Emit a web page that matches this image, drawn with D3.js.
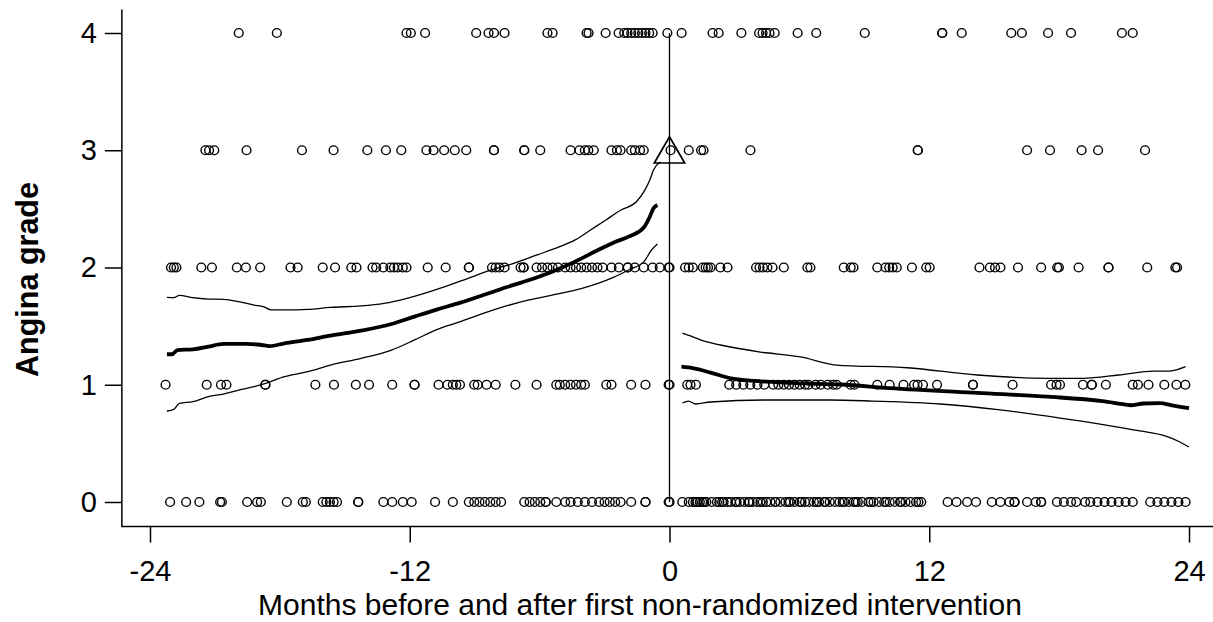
<!DOCTYPE html>
<html>
<head>
<meta charset="utf-8">
<script src="https://cdn.jsdelivr.net/npm/d3@7"></script>
<style>
  body { margin: 0; background: #fff; }
  svg { display: block; font-family: "Liberation Sans", Arial, sans-serif; }
</style>
</head>
<body>
<svg id="chart"></svg>
<script>
// months of each observation, one array per angina grade
const grade0 = [-23.07, -22.33, -21.72, -20.76, -20.68, -19.51, -19.05, -18.88, -17.68, -16.94, -16.8,
  -16.02, -15.85, -15.69, -15.52, -15.36, -14.38, -14.38, -13.22, -12.81, -12.32, -11.91, -10.83, -10.01,
  -9.27, -9.02, -8.78, -8.53, -8.28, -8.03, -7.78, -6.71, -6.46, -6.22, -5.97, -5.72, -5.72, -5.23, -4.82,
  -4.57, -4.24, -3.91, -3.58, -3.25, -3.0, -2.76, -2.51, -2.26, -1.77, -1.11, -1.11, -0.04,
  0, 0.59, 0.89, 1.08, 1.29, 1.51, 1.70, 1.95, 2.19, 2.43, 2.68, 2.84, 3.04, 3.25, 3.46, 3.65, 3.85, 4.06,
  4.31, 4.47, 4.66, 4.88, 5.12, 5.36, 5.57, 5.77, 6.01, 6.26, 6.45, 6.67, 6.91, 7.15, 7.40, 7.64, 7.85,
  8.08, 8.29, 8.51, 8.70, 8.90, 9.19, 9.43, 9.68, 9.92, 10.17, 10.41, 10.65, 10.90, 11.14, 11.39, 11.63,
  1.2, 1.4, 1.6, 2.3, 2.5, 3.1, 3.7, 4.2, 4.9, 5.5, 6.1, 6.8, 7.2, 8.0, 8.6, 9.3, 10.0, 10.7, 11.5,
  12.85, 13.26, 13.75, 14.16, 14.89, 15.29, 15.70, 15.94, 15.94, 16.52, 16.92, 17.17, 17.17, 17.90, 18.22,
  18.55, 18.79, 19.2, 19.44, 19.77, 20.1, 20.42, 20.75, 21.07, 21.4, 22.21, 22.54, 22.86, 23.19, 23.51, 23.84];
const grade1 = [-23.28, -21.38, -20.72, -20.47, -18.67, -18.67, -16.36, -15.5, -14.49, -13.88, -12.81,
  -11.78, -11.78, -10.67, -10.26, -10.01, -9.85, -9.68, -9.02, -8.86, -8.45, -8.03, -7.12, -6.14, -5.23,
  -5.07, -4.82, -4.57, -4.32, -4.08, -3.91, -2.92, -2.68, -1.77, -1.11, -0.04,
  0, 0.82, 0.97, 1.22, 2.76, 3.08, 3.41, 3.73, 4.06, 4.38, 4.79, 5.03, 5.28, 5.52, 5.77, 6.01, 6.26, 6.42,
  6.75, 6.99, 7.31, 7.56, 7.72, 8.37, 8.54, 9.6, 10.17, 10.81, 11.3, 11.46, 11.71, 12.36, 14.02, 14.02,
  15.85, 17.63, 17.88, 18.04, 19.1, 19.51, 19.51, 20.16, 21.4, 21.64, 22.13, 22.86, 23.42, 23.83];
const grade2 = [-23.03, -22.9, -22.78, -21.63, -21.14, -19.99, -19.57, -18.91, -17.51, -17.18, -16.02,
  -15.45, -14.7, -14.46, -13.72, -13.55, -13.22, -12.9, -12.73, -12.56, -12.32, -12.15, -11.17, -10.34,
  -9.27, -9.27, -8.2, -8.03, -7.86, -7.62, -6.88, -6.74, -6.74, -6.14, -5.89, -5.64, -5.4, -5.15, -4.82,
  -4.57, -4.32, -4.08, -3.83, -3.58, -3.33, -3.09, -2.68, -2.34, -1.93, -1.93, -1.6, -1.19, -0.78, -0.45,
  -0.04, 0, 0.72, 0.89, 1.08, 1.54, 1.67, 1.78, 1.9, 2.35, 2.68, 4.0, 4.16, 4.32, 4.52, 4.76, 5.28, 6.37,
  6.51, 8.05, 8.37, 8.5, 9.6, 9.98, 10.15, 10.31, 10.5, 11.2, 11.86, 12.02, 14.32, 14.8, 15.04, 15.29,
  16.1, 17.17, 17.91, 17.99, 18.9, 20.28, 20.28, 22.07, 23.37, 23.45];
const grade3 = [-21.44, -21.27, -21.03, -19.54, -16.98, -15.52, -13.96, -13.1, -12.39, -11.23, -10.9,
  -10.41, -9.92, -9.39, -8.11, -8.11, -6.71, -6.71, -5.97, -4.57, -4.16, -3.91, -3.75, -3.5, -2.68, -2.43,
  -2.26, -1.77, -1.6, -1.36, -1.19, 0.05, 0.89, 1.46, 1.57, 3.74, 11.47, 11.47, 16.52, 17.58, 19.04,
  19.8, 21.97];
const grade4 = [-19.9, -18.14, -12.15, -11.95, -11.29, -8.93, -8.36, -8.11, -7.62, -5.64, -5.4, -3.83,
  -3.74, -2.95, -2.35, -2.09, -1.94, -1.77, -1.6, -1.44, -1.27, -1.11, -0.94, -0.78, -0.1, 0.56, 1.99,
  2.27, 3.32, 4.14, 4.3, 4.46, 4.62, 4.86, 5.92, 6.78, 9.02, 12.6, 12.6, 13.5, 15.79, 16.28, 17.49,
  18.55, 20.9, 21.4];

// smoothed mean with confidence band, before and after month 0
const beforeMonths = [-23.22, -22.99, -22.73, -22.02, -21.31, -20.61, -19.55, -18.84, -18.49, -17.78,
  -16.72, -15.66, -14.25, -12.84, -11.78, -10.72, -9.66, -8.6, -7.54, -6.48, -5.42, -4.36, -3.3, -2.59,
  -1.89, -1.18, -0.91, -0.74, -0.56];
const beforeMean = [1.26, 1.26, 1.296, 1.302, 1.325, 1.348, 1.348, 1.339, 1.33, 1.353, 1.382, 1.419,
  1.461, 1.518, 1.581, 1.643, 1.70, 1.765, 1.831, 1.893, 1.964, 2.05, 2.149, 2.212, 2.263, 2.343, 2.433,
  2.505, 2.533];
const upperMonths = [-23.22, -22.9, -22.64, -22.02, -21.31, -20.61, -19.9, -19.19, -18.76, -18.4, -17.78,
  -16.72, -15.66, -14.25, -13.19, -12.13, -11.07, -10.37, -9.3, -8.24, -7.19, -6.12, -5.07, -4.36, -3.65,
  -2.94, -2.24, -1.53, -1.18, -0.91, -0.74, -0.42];
const beforeUpper = [1.746, 1.743, 1.763, 1.743, 1.731, 1.728, 1.709, 1.68, 1.666, 1.638, 1.638, 1.643,
  1.66, 1.672, 1.694, 1.737, 1.794, 1.836, 1.908, 1.979, 2.036, 2.107, 2.178, 2.235, 2.32, 2.405, 2.49,
  2.561, 2.647, 2.746, 2.832, 2.90];
const lowerMonths = [-23.22, -22.9, -22.64, -22.02, -21.31, -20.61, -19.9, -19.19, -18.66, -17.78, -16.72,
  -15.66, -14.25, -12.84, -11.78, -10.72, -9.66, -8.6, -7.54, -6.48, -5.42, -4.36, -3.3, -2.59, -1.89,
  -1.18, -0.83, -0.56];
const beforeLower = [0.776, 0.79, 0.842, 0.856, 0.898, 0.921, 0.955, 0.984, 1.012, 1.069, 1.111, 1.168,
  1.225, 1.296, 1.382, 1.473, 1.538, 1.609, 1.672, 1.723, 1.765, 1.808, 1.865, 1.916, 1.979, 2.05, 2.149,
  2.2];

const afterMeanMonths = [0.55, 1.13, 1.86, 2.84, 4.47, 6.09, 7.89, 10.15, 14.22, 17.49, 20.0, 20.75,
  21.3, 21.9, 22.66, 23.2, 24.0];
const afterMean = [1.154, 1.14, 1.106, 1.055, 1.026, 1.012, 1.002, 0.972, 0.93, 0.898, 0.86, 0.84,
  0.825, 0.84, 0.844, 0.825, 0.8];
const afterUpperMonths = [0.6, 0.97, 1.43, 2.35, 4.2, 6.05, 7.71, 10.98, 14.22, 17.49, 19.11, 20.75,
  22.38, 23.12, 23.84];
const afterUpper = [1.441, 1.416, 1.382, 1.339, 1.279, 1.237, 1.168, 1.145, 1.083, 1.055, 1.055, 1.083,
  1.117, 1.117, 1.154];
const afterLowerMonths = [0.6, 0.88, 1.2, 1.89, 4.48, 7.43, 9.37, 12.51, 15.28, 18.05, 19.89, 21.74,
  22.89, 23.58, 24.0];
const afterLower = [0.844, 0.861, 0.836, 0.853, 0.87, 0.87, 0.861, 0.836, 0.785, 0.716, 0.665, 0.606,
  0.563, 0.512, 0.469];

const xTicks = [-24, -12, 0, 12, 24];
const yTicks = [0, 1, 2, 3, 4];

const width = 1213, height = 622;
const svg = d3.select("#chart").attr("width", width).attr("height", height);

const x = d3.scaleLinear().domain([-24, 24]).range([150, 1189]);
const y = d3.scaleLinear().domain([0, 4]).range([502, 33]);

const axisX = -25.3, axisY = -0.21;

// L-shaped frame
svg.append("path")
  .attr("fill", "none")
  .attr("stroke", "#000")
  .attr("stroke-width", 1.5)
  .attr("d", `M${x(axisX)},${y(4.2)}V${y(axisY)}H${width}`);

const plain = d => String(d);

const yAxis = svg.append("g")
  .attr("transform", `translate(${x(axisX)},0)`)
  .call(d3.axisLeft(y).tickValues(yTicks).tickSize(17).tickPadding(8).tickFormat(plain));
yAxis.select(".domain").remove();
yAxis.selectAll("line").attr("stroke-width", 1.5);
yAxis.selectAll("text").attr("font-size", 29).attr("font-family", "Liberation Sans, Arial, sans-serif")
  .attr("fill", "#000");

const xAxis = svg.append("g")
  .attr("transform", `translate(0,${y(axisY)})`)
  .call(d3.axisBottom(x).tickValues(xTicks).tickSize(16).tickPadding(18).tickFormat(plain));
xAxis.select(".domain").remove();
xAxis.selectAll("line").attr("stroke-width", 1.5);
xAxis.selectAll("text").attr("font-size", 29).attr("font-family", "Liberation Sans, Arial, sans-serif")
  .attr("fill", "#000");

// vertical reference line at month 0
svg.append("line")
  .attr("x1", x(0)).attr("x2", x(0))
  .attr("y1", y(4)).attr("y2", y(0))
  .attr("stroke", "#000").attr("stroke-width", 1.3);

// observations
const points = [grade0, grade1, grade2, grade3, grade4]
  .flatMap((months, g) => months.map(m => ({m, g})));

svg.append("g")
  .attr("fill", "none")
  .attr("stroke", "#000")
  .attr("stroke-width", 1.4)
  .selectAll("circle")
  .data(points)
  .join("circle")
  .attr("cx", d => x(d.m))
  .attr("cy", d => y(d.g))
  .attr("r", 4.4);

// smooth curves
const line = d3.line().x(d => x(d[0])).y(d => y(d[1])).curve(d3.curveMonotoneX);
const curves = [
  {m: beforeMonths, v: beforeMean, w: 3.8},
  {m: upperMonths, v: beforeUpper, w: 1.3},
  {m: lowerMonths, v: beforeLower, w: 1.3},
  {m: afterMeanMonths, v: afterMean, w: 3.8},
  {m: afterUpperMonths, v: afterUpper, w: 1.3},
  {m: afterLowerMonths, v: afterLower, w: 1.3}
];
svg.append("g")
  .attr("fill", "none")
  .attr("stroke", "#000")
  .attr("stroke-linejoin", "round")
  .selectAll("path")
  .data(curves)
  .join("path")
  .attr("stroke-width", d => d.w)
  .attr("d", d => line(d.m.map((m, i) => [m, d.v[i]])));

// triangle marker at month 0, grade 3
svg.append("path")
  .attr("d", d3.symbol(d3.symbolTriangle, 400)())
  .attr("transform", `translate(${x(0)},${y(3) + 4})`)
  .attr("fill", "none")
  .attr("stroke", "#000")
  .attr("stroke-width", 1.7);

// titles
svg.append("text")
  .attr("x", 640)
  .attr("y", 615)
  .attr("text-anchor", "middle")
  .attr("font-size", 30)
  .text("Months before and after first non-randomized intervention");

svg.append("text")
  .attr("transform", `translate(38,${(y(0) + y(4)) / 2 + 12}) rotate(-90)`)
  .attr("text-anchor", "middle")
  .attr("font-size", 30.5)
  .attr("font-weight", "bold")
  .text("Angina grade");
</script>
</body>
</html>
